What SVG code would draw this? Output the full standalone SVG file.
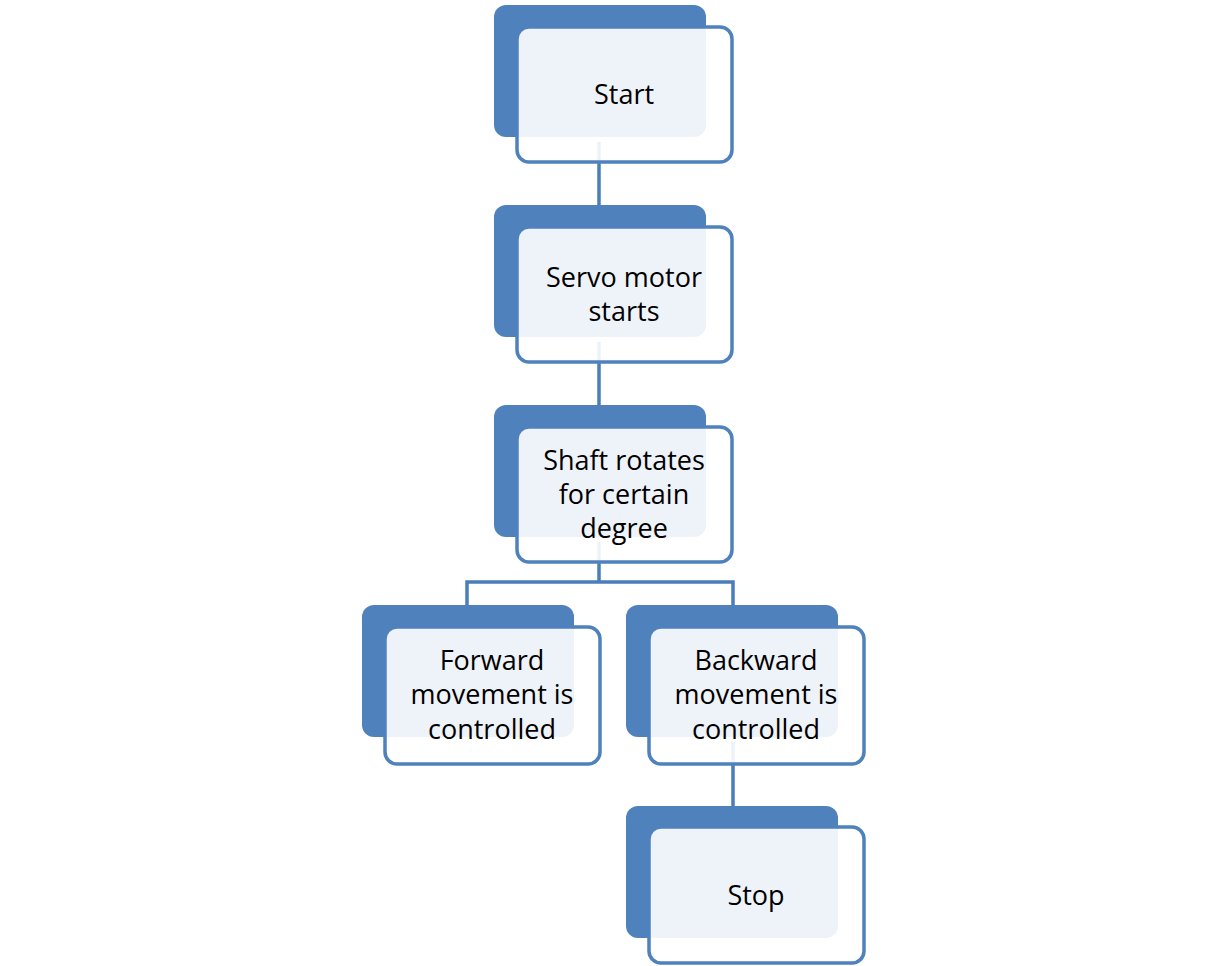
<svg xmlns="http://www.w3.org/2000/svg" width="1225" height="966" viewBox="0 0 1225 966">
<style>
.back{fill:#4F81BD}
.front{fill:#FFFFFF;fill-opacity:0.9;stroke:#4F81BD;stroke-width:3.5}
.conn{fill:none;stroke:#4A7EBA;stroke-width:3.5}
text{font-family:"Open Sans","Noto Sans",sans-serif;font-size:27px;fill:#000;text-anchor:middle}
</style>
<rect width="1225" height="966" fill="#FFFFFF"/>
<g id="connectors">
<line class="conn" x1="599" y1="142" x2="599" y2="205"/>
<line class="conn" x1="599" y1="342" x2="599" y2="405"/>
<polyline class="conn" points="599,542 599,582"/>
<polyline class="conn" points="467,605 467,582 733,582 733,605"/>
<line class="conn" x1="733" y1="742" x2="733" y2="806"/>
</g>
<g id="start">
<rect class="back" x="494" y="5" width="212" height="132" rx="12"/>
<rect class="front" x="517" y="27" width="215" height="135" rx="12"/>
<text x="624" y="104">Start</text>
</g>
<g id="servo">
<rect class="back" x="494" y="205" width="212" height="132" rx="12"/>
<rect class="front" x="517" y="227" width="215" height="135" rx="12"/>
<text x="624" y="287">Servo motor</text>
<text x="624" y="321">starts</text>
</g>
<g id="shaft">
<rect class="back" x="494" y="405" width="212" height="132" rx="12"/>
<rect class="front" x="517" y="427" width="215" height="135" rx="12"/>
<text x="624" y="470">Shaft rotates</text>
<text x="624" y="504">for certain</text>
<text x="624" y="538">degree</text>
</g>
<g id="forward">
<rect class="back" x="362" y="605" width="212" height="132" rx="12"/>
<rect class="front" x="385" y="627" width="215" height="137" rx="12"/>
<text x="492" y="670">Forward</text>
<text x="492" y="704">movement is</text>
<text x="492" y="739">controlled</text>
</g>
<g id="backward">
<rect class="back" x="626" y="605" width="212" height="132" rx="12"/>
<rect class="front" x="649" y="627" width="215" height="137" rx="12"/>
<text x="756" y="670">Backward</text>
<text x="756" y="704">movement is</text>
<text x="756" y="739">controlled</text>
</g>
<g id="stop">
<rect class="back" x="626" y="806" width="212" height="132" rx="12"/>
<rect class="front" x="649" y="827" width="215" height="136" rx="12"/>
<text x="756" y="905">Stop</text>
</g>
</svg>
